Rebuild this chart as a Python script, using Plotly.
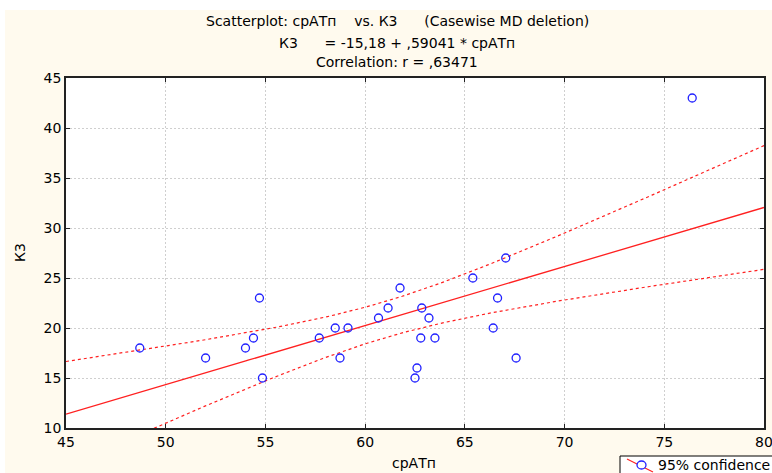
import numpy as np
import plotly.graph_objects as go

# ---- data ----
srATp = [48.7, 52.0, 54.0, 54.4, 54.7, 54.85, 57.7, 58.5, 58.74, 59.14,
         60.67, 61.15, 61.75, 62.84, 63.2, 62.79, 63.5, 62.6, 62.5,
         65.4, 67.05, 66.64, 66.42, 67.57, 76.4]
K3 = [18, 17, 18, 19, 23, 15, 19, 20, 17, 20,
      21, 22, 24, 22, 21, 19, 19, 16, 15,
      25, 27, 23, 20, 17, 43]
intercept = -15.18
slope = 0.59041
t_crit = 2.0687  # t(0.975, df=23)

x_ticks = [45, 50, 55, 60, 65, 70, 75, 80]
y_ticks = [10, 15, 20, 25, 30, 35, 40, 45]

title_lines = [
    "Scatterplot: срАТп\u00a0\u00a0\u00a0 vs. К3\u00a0\u00a0\u00a0\u00a0\u00a0 (Casewise MD deletion)",
    "К3\u00a0\u00a0\u00a0\u00a0\u00a0 = -15,18 + ,59041 * срАТп",
    "Correlation: r = ,63471",
]

# ---- fit line and 95% confidence band ----
x = np.array(srATp, dtype=float)
y = np.array(K3, dtype=float)
n = len(x)
xm = x.mean()
sxx = ((x - xm) ** 2).sum()
resid = y - (intercept + slope * x)
s = np.sqrt((resid ** 2).sum() / (n - 2))
xf = np.linspace(x_ticks[0], x_ticks[-1], 300)
yf = intercept + slope * xf
hw = t_crit * s * np.sqrt(1.0 / n + (xf - xm) ** 2 / sxx)

W, H = 772, 473
ml, mr, mt, mb = 66, 8, 78, 45
pw, ph = W - ml - mr, H - mt - mb


def px(v):
    return (v - ml) / pw


def py(v):
    return (H - mb - v) / ph


red = "#ff2020"
blue = "#2020ff"
font = "DejaVu Sans, Arial, sans-serif"

fig = go.Figure()
fig.add_trace(go.Scatter(x=xf, y=yf + hw, mode="lines",
                         line=dict(color=red, width=1.2, dash="3px,3px"), hoverinfo="skip"))
fig.add_trace(go.Scatter(x=xf, y=yf - hw, mode="lines",
                         line=dict(color=red, width=1.2, dash="3px,3px"), hoverinfo="skip"))
fig.add_trace(go.Scatter(x=xf, y=yf, mode="lines",
                         line=dict(color=red, width=1.3), hoverinfo="skip"))
fig.add_trace(go.Scatter(x=srATp, y=K3, mode="markers",
                         marker=dict(symbol="circle-open", size=8, color=blue,
                                     line=dict(width=1.3, color=blue))))

shapes = [
    # cream background
    dict(type="rect", xref="paper", yref="paper", x0=px(5), x1=px(W + 5), y0=py(H + 5), y1=py(10),
         fillcolor="#fffaee", line=dict(width=0), layer="below"),
    # white plot area
    dict(type="rect", xref="x", yref="y", x0=x_ticks[0], x1=x_ticks[-1], y0=y_ticks[0], y1=y_ticks[-1],
         fillcolor="white", line=dict(width=0), layer="below"),
    # legend box
    dict(type="rect", xref="paper", yref="paper", x0=px(620), x1=px(785), y0=py(485), y1=py(456),
         fillcolor="white", line=dict(color="black", width=1)),
    dict(type="line", xref="paper", yref="paper", x0=px(627), x1=px(653), y0=py(459), y1=py(472),
         line=dict(color=red, width=1.2)),
    dict(type="circle", xref="paper", yref="paper", x0=px(637), x1=px(646), y0=py(469), y1=py(461),
         fillcolor="white", line=dict(color=blue, width=1.3)),
]

annotations = []
for t, yy in zip(title_lines, [21, 43, 62]):
    annotations.append(dict(text=t, xref="paper", yref="paper", x=px(397), y=py(yy),
                            xanchor="center", yanchor="middle", showarrow=False,
                            font=dict(size=14, color="black", family=font)))
annotations.append(dict(text="срАТп", xref="paper", yref="paper", x=px(414), y=py(463),
                        xanchor="center", yanchor="middle", showarrow=False,
                        font=dict(size=14, color="black", family=font)))
annotations.append(dict(text="К3", xref="paper", yref="paper", x=px(20), y=py(253),
                        xanchor="center", yanchor="middle", showarrow=False, textangle=-90,
                        font=dict(size=14, color="black", family=font)))
annotations.append(dict(text="95% confidence", xref="paper", yref="paper", x=px(656), y=py(465),
                        xanchor="left", yanchor="middle", showarrow=False,
                        font=dict(size=14, color="black", family=font)))

axis_common = dict(showline=True, linecolor="#222", linewidth=1.5, mirror="ticks",
                   ticks="inside", ticklen=4, tickcolor="#222", tickwidth=1,
                   showgrid=True, gridcolor="#cfcfcf", griddash="2px,2px", gridwidth=1,
                   zeroline=False, ticklabeloverflow="allow",
                   tickfont=dict(size=14, color="black", family=font))

fig.update_layout(
    width=W, height=H,
    margin=dict(l=ml, r=mr, t=mt, b=mb, autoexpand=False),
    paper_bgcolor="white", plot_bgcolor="white",
    showlegend=False,
    shapes=shapes, annotations=annotations,
    xaxis=dict(range=[x_ticks[0], x_ticks[-1]], tickvals=x_ticks, **axis_common),
    yaxis=dict(range=[y_ticks[0], y_ticks[-1]], tickvals=y_ticks, **axis_common),
)

fig.write_html("out.html")
